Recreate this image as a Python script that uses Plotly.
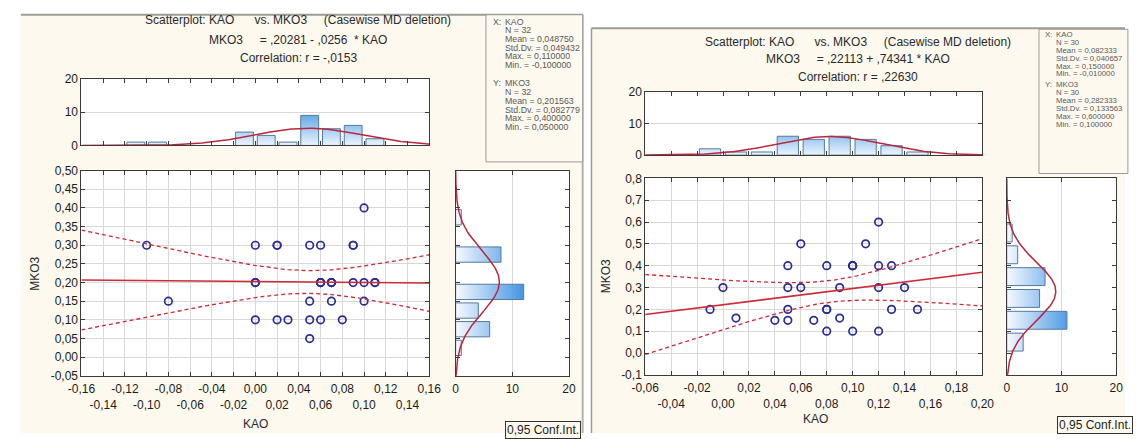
import numpy as np
import plotly.graph_objects as go

W, H = 1136, 439
FONT = "Liberation Sans, Arial, sans-serif"

# ------------------------------------------------------------------ data
# Left chart (N = 32)
kao_left = [-0.10, -0.08, 0.00, 0.00, 0.00, 0.02, 0.02, 0.03, 0.05, 0.06, 0.05, 0.05,
            0.05, 0.06, 0.06, 0.07, 0.07, 0.08, 0.09, 0.09, 0.10, 0.10, 0.10, 0.11,
            0.02, 0.11, 0.07, 0.07, 0.00, 0.06, 0.06, 0.09]
mko3_left = [0.30, 0.15, 0.30, 0.20, 0.10, 0.30, 0.10, 0.10, 0.30, 0.30, 0.15, 0.10,
             0.05, 0.20, 0.10, 0.20, 0.15, 0.10, 0.30, 0.20, 0.40, 0.20, 0.15, 0.20,
             0.30, 0.20, 0.20, 0.20, 0.20, 0.20, 0.20, 0.30]
# Right chart (N = 30)
kao_right = [-0.01, 0.00, 0.01, 0.04, 0.05, 0.05, 0.05, 0.05, 0.06, 0.06, 0.07, 0.08,
             0.08, 0.08, 0.09, 0.09, 0.10, 0.10, 0.11, 0.12, 0.12, 0.12, 0.12, 0.13,
             0.13, 0.14, 0.15, 0.08, 0.10, 0.10]
mko3_right = [0.20, 0.30, 0.16, 0.15, 0.40, 0.30, 0.20, 0.15, 0.50, 0.30, 0.15, 0.40,
              0.20, 0.10, 0.30, 0.16, 0.40, 0.10, 0.50, 0.60, 0.40, 0.30, 0.10, 0.40,
              0.20, 0.30, 0.20, 0.20, 0.40, 0.40]

# printed statistics
n_left, n_right = 32, 30
xmean_left, xsd_left, ymean_left, ysd_left = 0.048750, 0.049432, 0.201563, 0.082779
xmean_right, xsd_right, ymean_right, ysd_right = 0.082333, 0.040657, 0.282333, 0.133563
b0_left, b1_left, r_left = 0.20281, -0.0256, -0.0153
b0_right, b1_right, r_right = 0.22113, 0.74341, 0.22630
t_left, t_right = 2.042, 2.048   # t(0.975, N-2)

titles_left = ["Scatterplot: KAO      vs. MKO3     (Casewise MD deletion)",
               "MKO3     = ,20281 - ,0256  * KAO",
               "Correlation: r = -,0153"]
titles_right = ["Scatterplot: KAO      vs. MKO3     (Casewise MD deletion)",
                "MKO3     = ,22113 + ,74341 * KAO",
                "Correlation: r = ,22630"]
stats_left = ["N = 32", "Mean = 0,048750", "Std.Dv. = 0,049432", "Max. = 0,110000",
              "Min. = -0,100000", "N = 32", "Mean = 0,201563", "Std.Dv. = 0,082779",
              "Max. = 0,400000", "Min. = 0,050000"]
stats_right = ["N = 30", "Mean = 0,082333", "Std.Dv. = 0,040657", "Max. = 0,150000",
               "Min. = -0,010000", "N = 30", "Mean = 0,282333", "Std.Dv. = 0,133563",
               "Max. = 0,600000", "Min. = 0,100000"]

xticks_left = [-0.16, -0.14, -0.12, -0.10, -0.08, -0.06, -0.04, -0.02, 0.00,
               0.02, 0.04, 0.06, 0.08, 0.10, 0.12, 0.14, 0.16]
yticks_left = [-0.05, 0.00, 0.05, 0.10, 0.15, 0.20, 0.25, 0.30, 0.35, 0.40, 0.45, 0.50]
xticks_right = [-0.06, -0.04, -0.02, 0.00, 0.02, 0.04, 0.06, 0.08, 0.10, 0.12,
                0.14, 0.16, 0.18, 0.20]
yticks_right = [-0.1, 0.0, 0.1, 0.2, 0.3, 0.4, 0.5, 0.6, 0.7, 0.8]
count_ticks = [0, 10, 20]

xbins_left = [-0.16, -0.14, -0.12, -0.10, -0.08, -0.06, -0.04, -0.02, 0.00,
              0.02, 0.04, 0.06, 0.08, 0.10, 0.12, 0.14, 0.16]
ybins_left = [-0.05, 0.00, 0.05, 0.10, 0.15, 0.20, 0.25, 0.30, 0.35, 0.40, 0.45, 0.50]
xbins_right = [-0.06, -0.04, -0.02, 0.00, 0.02, 0.04, 0.06, 0.08, 0.10, 0.12,
               0.14, 0.16, 0.18, 0.20]
ybins_right = [-0.1, 0.0, 0.1, 0.2, 0.3, 0.4, 0.5, 0.6, 0.7, 0.8]

# ------------------------------------------------------------------ helpers
def PX(x):
    return x / W


def PY(y):
    return 1 - y / H


def fmt(v, d):
    s = f"{v:.{d}f}"
    if s.startswith('-') and float(s) == 0:
        s = s[1:]
    return s.replace('.', ',')


def stagger(vals, d):
    return [fmt(v, d) if i % 2 == 0 else '<br>' + fmt(v, d) for i, v in enumerate(vals)]


def hist_polys(vals, edges, orient):
    v = np.asarray(vals, dtype=float)
    xs, ys, mx = [], [], 0
    for lo, hi in zip(edges[:-1], edges[1:]):
        n = int(np.sum((v > lo + 1e-9) & (v <= hi + 1e-9)))
        if n == 0:
            continue
        mx = max(mx, n)
        c = (lo + hi) / 2
        w = (hi - lo) * 0.82 / 2
        a, b = c - w, c + w
        if orient == 'v':
            xs += [a, a, b, b, a, None]
            ys += [0, n, n, 0, 0, None]
        else:
            xs += [0, n, n, 0, 0, None]
            ys += [a, a, b, b, a, None]
    return xs, ys, mx


def normal_curve(n, bw, m, sd, lo, hi):
    t = np.linspace(lo, hi, 200)
    d = n * bw / (sd * np.sqrt(2 * np.pi)) * np.exp(-0.5 * ((t - m) / sd) ** 2)
    return t, d


RED = '#cc2a38'
CURVE = '#b8283c'
MARK = '#2c2c96'
BAR_LINE = '#55799f'
BAR_SCALE = [[0, '#f6faff'], [1, '#3f92e2']]
CREAM = '#fdf9ee'

fig = go.Figure()

AX = dict(showline=True, linecolor='#3a3a3a', linewidth=1, mirror='ticks', ticks='inside',
          ticklen=4, tickcolor='#3a3a3a', showgrid=True, gridcolor='#d8d8d8', gridwidth=1,
          zeroline=False, fixedrange=True, tickangle=0,
          tickfont=dict(family=FONT, size=12, color='#1c1c1c'))

shapes = []
annotations = []

# panel backgrounds
shapes.append(dict(type='rect', xref='paper', yref='paper', x0=PX(7), x1=PX(582),
                   y0=PY(440), y1=PY(8), fillcolor=CREAM, line=dict(width=0), layer='below'))
shapes.append(dict(type='line', xref='paper', yref='paper', x0=PX(7), x1=PX(582),
                   y0=PY(8), y1=PY(8), line=dict(color='#9c9c94', width=2), layer='below'))
shapes.append(dict(type='line', xref='paper', yref='paper', x0=PX(582), x1=PX(582),
                   y0=PY(8), y1=PY(440), line=dict(color='#b4b4ae', width=2), layer='below'))
shapes.append(dict(type='rect', xref='paper', yref='paper', x0=PX(591), x1=PX(1137),
                   y0=PY(440), y1=PY(22), fillcolor=CREAM, line=dict(width=0), layer='below'))
shapes.append(dict(type='line', xref='paper', yref='paper', x0=PX(591), x1=PX(1137),
                   y0=PY(22), y1=PY(22), line=dict(color='#9c9c94', width=2), layer='below'))
shapes.append(dict(type='line', xref='paper', yref='paper', x0=PX(591), x1=PX(591),
                   y0=PY(22), y1=PY(440), line=dict(color='#9c9c94', width=1.5), layer='below'))
# stats boxes
shapes.append(dict(type='rect', xref='paper', yref='paper', x0=PX(483), x1=PX(582),
                   y0=PY(160), y1=PY(8), fillcolor=CREAM, line=dict(color='#9a9a9a', width=1),
                   layer='below'))
shapes.append(dict(type='rect', xref='paper', yref='paper', x0=PX(1049), x1=PX(1140),
                   y0=PY(172), y1=PY(23), fillcolor=CREAM, line=dict(color='#9a9a9a', width=1),
                   layer='below'))


def panel(side, kao, mko3, n, xm, xsd, ym, ysd, b0, b1, r, tcrit, xt, yt, xb, yb,
          sc_box, th_box, rh_box, ydec, titles, tcx, tys, stats, sbox):
    k = 0 if side == 'L' else 3
    ids = [str(k + 1) if k + 1 > 1 else '', str(k + 2), str(k + 3)]
    xa = ['x' + ids[0], 'x' + ids[1], 'x' + ids[2]]
    ya = ['y' + ids[0], 'y' + ids[1], 'y' + ids[2]]
    xr = [xt[0], xt[-1]]
    yr = [yt[0], yt[-1]]

    for bx in (sc_box, th_box, rh_box):
        shapes.append(dict(type='rect', xref='paper', yref='paper', x0=PX(bx[0]), x1=PX(bx[1]),
                           y0=PY(bx[3]), y1=PY(bx[2]), fillcolor='white',
                           line=dict(width=0), layer='below'))

    # scatter
    fig.add_trace(go.Scatter(x=kao, y=mko3, mode='markers', xaxis=xa[0], yaxis=ya[0],
                             marker=dict(symbol='circle-open', size=7.5, color=MARK,
                                         line=dict(width=1.7, color=MARK)),
                             showlegend=False, hoverinfo='skip'))
    gx = np.linspace(xr[0], xr[1], 200)
    yhat = b0 + b1 * gx
    s = ysd * np.sqrt((1 - r ** 2) * (n - 1) / (n - 2))
    sxx = (n - 1) * xsd ** 2
    half = tcrit * s * np.sqrt(1 / n + (gx - xm) ** 2 / sxx)
    fig.add_trace(go.Scatter(x=gx, y=yhat, mode='lines', xaxis=xa[0], yaxis=ya[0],
                             line=dict(color=RED, width=1.5), showlegend=False, hoverinfo='skip'))
    for band in (yhat + half, yhat - half):
        fig.add_trace(go.Scatter(x=gx, y=band, mode='lines', xaxis=xa[0], yaxis=ya[0],
                                 line=dict(color=RED, width=1.3, dash='4px,3px'),
                                 showlegend=False, hoverinfo='skip'))

    # top histogram (KAO)
    hx, hy, mx = hist_polys(kao, xb, 'v')
    fig.add_trace(go.Scatter(x=hx, y=hy, mode='lines', fill='toself', xaxis=xa[1], yaxis=ya[1],
                             line=dict(color=BAR_LINE, width=1),
                             fillgradient=dict(type='vertical', colorscale=BAR_SCALE,
                                               start=0, stop=12),
                             showlegend=False, hoverinfo='skip'))
    cx, cy = normal_curve(n, xb[1] - xb[0], xm, xsd, xr[0], xr[1])
    fig.add_trace(go.Scatter(x=cx, y=cy, mode='lines', xaxis=xa[1], yaxis=ya[1],
                             line=dict(color=CURVE, width=1.5), showlegend=False,
                             hoverinfo='skip'))

    # right histogram (MKO3)
    vx, vy, my = hist_polys(mko3, yb, 'h')
    fig.add_trace(go.Scatter(x=vx, y=vy, mode='lines', fill='toself', xaxis=xa[2], yaxis=ya[2],
                             line=dict(color=BAR_LINE, width=1),
                             fillgradient=dict(type='horizontal', colorscale=BAR_SCALE,
                                               start=0, stop=12),
                             showlegend=False, hoverinfo='skip'))
    cyv, cxv = normal_curve(n, yb[1] - yb[0], ym, ysd, yr[0], yr[1])
    fig.add_trace(go.Scatter(x=cxv, y=cyv, mode='lines', xaxis=xa[2], yaxis=ya[2],
                             line=dict(color=CURVE, width=1.5), showlegend=False,
                             hoverinfo='skip'))

    def dom(b):
        return [PX(b[0]), PX(b[1])], [PY(b[3]), PY(b[2])]

    d0x, d0y = dom(sc_box)
    d1x, d1y = dom(th_box)
    d2x, d2y = dom(rh_box)
    lay = {}
    lay['xaxis' + ids[0]] = dict(AX, domain=d0x, anchor=ya[0], range=xr, tickvals=xt,
                                 ticktext=stagger(xt, 2), ticklabelstandoff=2)
    lay['yaxis' + ids[0]] = dict(AX, domain=d0y, anchor=xa[0], range=yr, tickvals=yt,
                                 ticktext=[fmt(v, ydec) for v in yt])
    lay['xaxis' + ids[1]] = dict(AX, domain=d1x, anchor=ya[1], range=xr, tickvals=xt,
                                 showticklabels=False, showgrid=False)
    lay['yaxis' + ids[1]] = dict(AX, domain=d1y, anchor=xa[1], range=[0, 20],
                                 tickvals=count_ticks, ticktext=[str(v) for v in count_ticks])
    lay['xaxis' + ids[2]] = dict(AX, domain=d2x, anchor=ya[2], range=[0, 20],
                                 tickvals=count_ticks, ticktext=[str(v) for v in count_ticks],
                                 ticklabelstandoff=2)
    lay['yaxis' + ids[2]] = dict(AX, domain=d2y, anchor=xa[2], range=yr, tickvals=yt,
                                 showticklabels=False, showgrid=False)
    fig.update_layout(**lay)

    for txt, ty in zip(titles, tys):
        annotations.append(dict(xref='paper', yref='paper', x=PX(tcx), y=PY(ty),
                                text=txt.replace(' ', '\u00a0'), showarrow=False,
                                xanchor='center', yanchor='middle',
                                font=dict(family=FONT, size=12, color='#2a2a2a')))
    # axis titles
    annotations.append(dict(xref='paper', yref='paper', x=PX(sbox['ytitle'][0]),
                            y=PY(sbox['ytitle'][1]), text='MKO3', textangle=-90,
                            showarrow=False, xanchor='center', yanchor='middle',
                            font=dict(family=FONT, size=12, color='#2a2a2a')))
    annotations.append(dict(xref='paper', yref='paper', x=PX(sbox['xtitle'][0]),
                            y=PY(sbox['xtitle'][1]), text='KAO', showarrow=False,
                            xanchor='center', yanchor='middle',
                            font=dict(family=FONT, size=12, color='#2a2a2a')))
    # stats box text
    lx, vx0 = sbox['x']
    ys_ = sbox['ys']
    fs = sbox['fs']
    heads = [('X:', 'KAO'), ('Y:', 'MKO3')]
    for gi in range(2):
        y0 = ys_[gi * 6]
        annotations.append(dict(xref='paper', yref='paper', x=PX(lx), y=PY(y0), text=heads[gi][0],
                                showarrow=False, xanchor='left', yanchor='middle',
                                font=dict(family=FONT, size=fs, color='#5a5a5a')))
        annotations.append(dict(xref='paper', yref='paper', x=PX(vx0), y=PY(y0), text=heads[gi][1],
                                showarrow=False, xanchor='left', yanchor='middle',
                                font=dict(family=FONT, size=fs, color='#5a5a5a')))
        for j in range(5):
            annotations.append(dict(xref='paper', yref='paper', x=PX(vx0), y=PY(ys_[gi * 6 + j + 1]),
                                    text=stats[gi * 5 + j], showarrow=False, xanchor='left',
                                    yanchor='middle',
                                    font=dict(family=FONT, size=fs, color='#5a5a5a')))
    cb = sbox['conf']
    annotations.append(dict(xref='paper', yref='paper', x=PX(cb[0]), y=PY(cb[1]),
                            text='0,95 Conf.Int.', showarrow=False, xanchor='left',
                            yanchor='top', bordercolor='#333333', borderwidth=1, borderpad=1,
                            bgcolor=CREAM, font=dict(family=FONT, size=12, color='#1c1c1c')))


panel('L', kao_left, mko3_left, n_left, xmean_left, xsd_left, ymean_left, ysd_left,
      b0_left, b1_left, r_left, t_left, xticks_left, yticks_left, xbins_left, ybins_left,
      sc_box=(69, 425, 169, 381), th_box=(69, 425, 74, 143), rh_box=(452, 568, 169, 381),
      ydec=2, titles=titles_left, tcx=291, tys=(13, 34, 53), stats=stats_left,
      sbox=dict(x=(488, 500), ys=[15, 24, 33, 42, 51, 60, 79, 88, 97, 106, 115, 124], fs=8.8,
                ytitle=(22, 275), xtitle=(247, 431), conf=(503, 428)))
panel('R', kao_right, mko3_right, n_right, xmean_right, xsd_right, ymean_right, ysd_right,
      b0_right, b1_right, r_right, t_right, xticks_right, yticks_right, xbins_right, ybins_right,
      sc_box=(646, 991, 177, 380), th_box=(646, 991, 88, 153), rh_box=(1016, 1128, 177, 380),
      ydec=1, titles=titles_right, tcx=864, tys=(36, 54, 72), stats=stats_right,
      sbox=dict(x=(1053, 1064), ys=[28, 36.5, 45, 53, 61, 69, 80, 88.5, 97, 105, 113, 121],
                fs=7.8, ytitle=(606, 278), xtitle=(820, 426), conf=(1067, 422)))

fig.update_layout(width=W, height=H, margin=dict(l=0, r=0, t=0, b=0),
                  paper_bgcolor='white', plot_bgcolor='rgba(0,0,0,0)',
                  shapes=shapes, annotations=annotations, showlegend=False,
                  font=dict(family=FONT, size=12))
fig.write_html("out.html")
